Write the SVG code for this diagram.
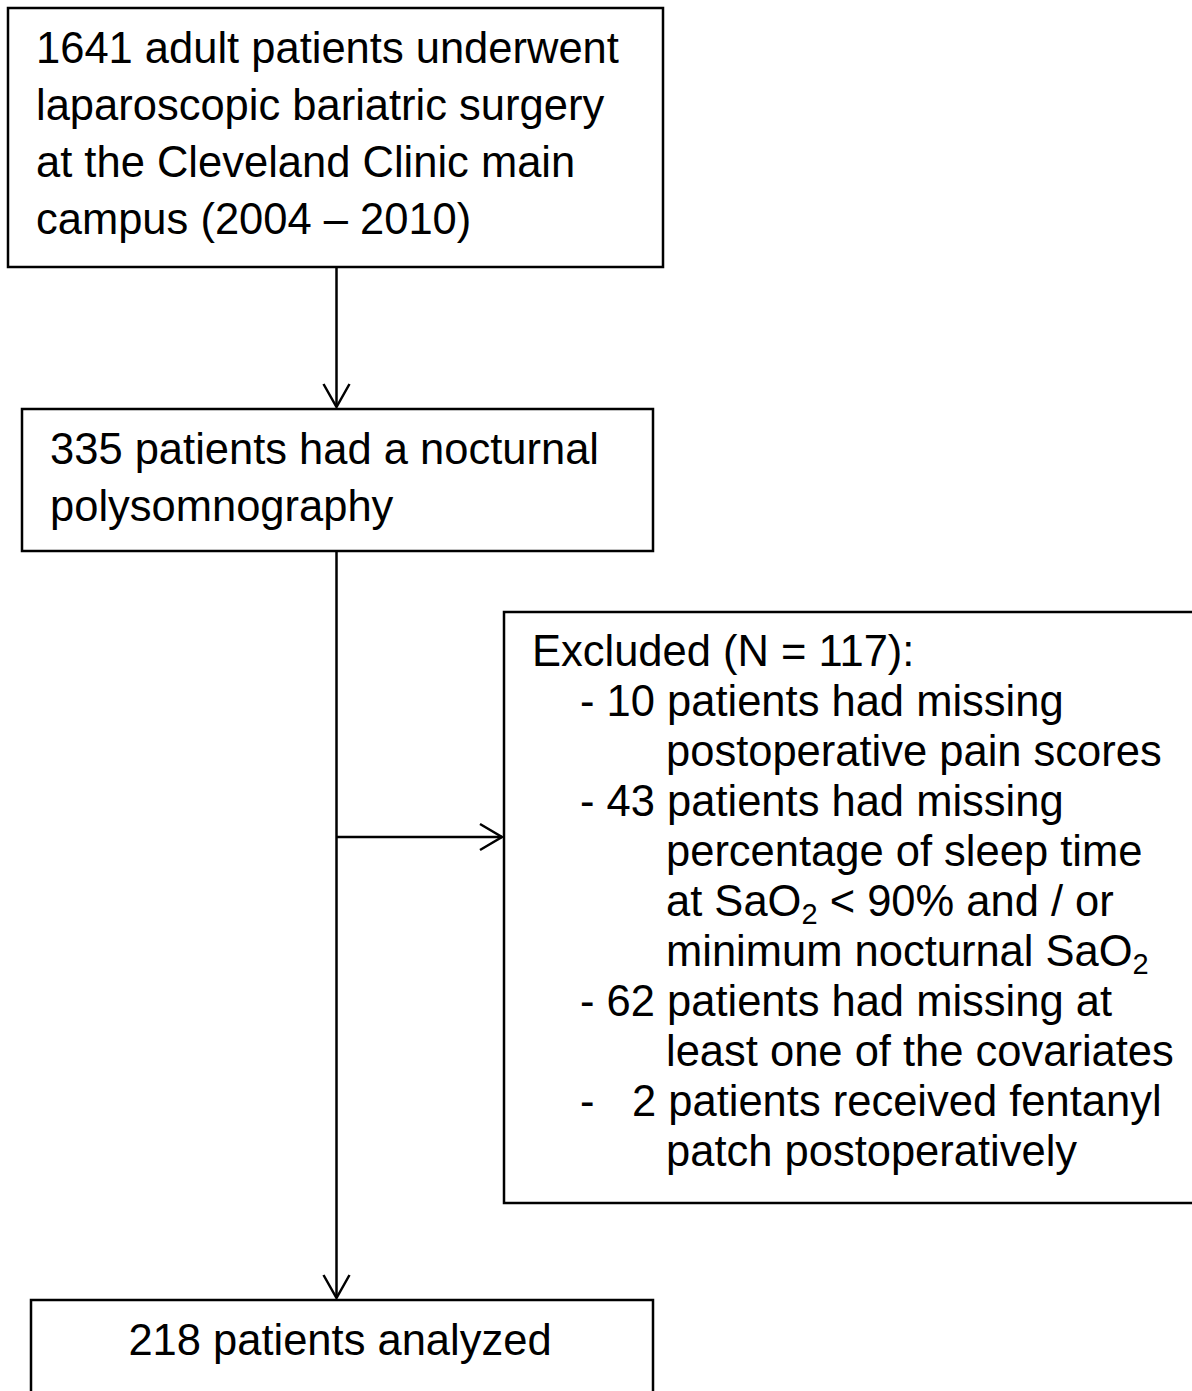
<svg xmlns="http://www.w3.org/2000/svg" width="1192" height="1391" viewBox="0 0 1192 1391">
<style>
.box{fill:#fff;stroke:#000;stroke-width:2.5}
.t{font-family:"Liberation Sans",Arial,sans-serif;font-size:43.5px;fill:#000}
.ln{fill:none;stroke:#000;stroke-width:2.5}
.sub{font-size:29px}
</style>
<rect width="1192" height="1391" fill="#fff"/>
<g id="n1">
<rect class="box" x="8" y="8" width="655" height="259"/>
<text class="t" x="36" y="63">1641 adult patients underwent</text>
<text class="t" x="36" y="120">laparoscopic bariatric surgery</text>
<text class="t" x="36" y="177">at the Cleveland Clinic main</text>
<text class="t" x="36" y="234">campus (2004 – 2010)</text>
</g>
<g id="n2">
<rect class="box" x="22" y="409" width="631" height="142"/>
<text class="t" x="50" y="464">335 patients had a nocturnal</text>
<text class="t" x="50" y="521">polysomnography</text>
</g>
<g id="n3">
<rect class="box" x="504" y="612" width="700" height="591"/>
<text class="t" x="532" y="666">Excluded (N = 117):</text>
<text class="t" x="580" y="716">- 10 patients had missing</text>
<text class="t" x="666" y="766">postoperative pain scores</text>
<text class="t" x="580" y="816">- 43 patients had missing</text>
<text class="t" x="666" y="866">percentage of sleep time</text>
<text class="t" x="666" y="916">at SaO<tspan class="sub" dy="8">2</tspan><tspan dy="-8"> &lt; 90% and / or</tspan></text>
<text class="t" x="666" y="966">minimum nocturnal SaO<tspan class="sub" dy="8">2</tspan></text>
<text class="t" x="580" y="1016">- 62 patients had missing at</text>
<text class="t" x="666" y="1066">least one of the covariates</text>
<text class="t" x="580" y="1116">-</text>
<text class="t" x="632" y="1116">2 patients received fentanyl</text>
<text class="t" x="666" y="1166">patch postoperatively</text>
</g>
<g id="n4">
<rect class="box" x="31" y="1300" width="622" height="110"/>
<text class="t" x="340" y="1355" text-anchor="middle">218 patients analyzed</text>
</g>
<g id="connectors">
<line class="ln" x1="336.5" y1="267" x2="336.5" y2="407"/>
<polyline class="ln" points="323.5,384 336.5,407 349.5,384"/>
<line class="ln" x1="336.5" y1="551" x2="336.5" y2="1298"/>
<polyline class="ln" points="323.5,1275 336.5,1298 349.5,1275"/>
<line class="ln" x1="336.5" y1="837" x2="502" y2="837"/>
<polyline class="ln" points="480,824 502,837 480,850"/>
</g>
</svg>
